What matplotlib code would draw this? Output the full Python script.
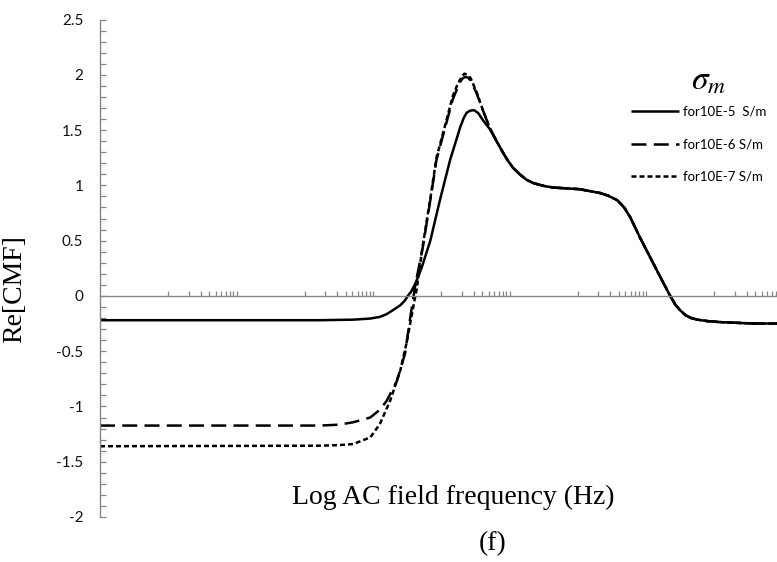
import numpy as np
import matplotlib
matplotlib.use("Agg")
import matplotlib.pyplot as plt
from matplotlib.ticker import FixedLocator, MultipleLocator, NullLocator, NullFormatter, FuncFormatter

# ---------------- data (x = log10 of AC field frequency) ----------------
log_f_5 = [1.0, 4.22, 4.71, 4.96, 5.10, 5.20, 5.29, 5.40, 5.47, 5.51, 5.56, 5.62, 5.71, 5.84,
           5.98, 6.13, 6.28, 6.33, 6.37, 6.42, 6.48, 6.54, 6.61, 6.71, 6.81, 6.91, 6.98,
           7.05, 7.15, 7.25, 7.35, 7.50, 7.64, 8.03, 8.33, 8.45, 8.58, 8.68, 8.77, 8.84,
           8.91, 9.06, 9.21, 9.35, 9.43, 9.50, 9.58, 9.66, 9.75, 9.90, 10.08, 10.57, 10.92]
cmf_5 = [-0.22, -0.22, -0.215, -0.205, -0.19, -0.165, -0.13, -0.085, -0.04, 0.0, 0.04, 0.11, 0.25, 0.50,
         0.865, 1.23, 1.53, 1.61, 1.655, 1.675, 1.68, 1.655, 1.59, 1.51, 1.40, 1.29, 1.22,
         1.16, 1.10, 1.05, 1.02, 0.995, 0.98, 0.965, 0.93, 0.905, 0.865, 0.80, 0.71, 0.62,
         0.53, 0.35, 0.17, 0.005, -0.08, -0.13, -0.175, -0.20, -0.215, -0.228, -0.237, -0.25, -0.25]

log_f_6 = [1.0, 4.22, 4.50, 4.71, 4.96, 5.10, 5.20, 5.35, 5.47, 5.54, 5.62, 5.73, 5.84, 5.93,
           6.06, 6.17, 6.23, 6.27, 6.31, 6.35, 6.39, 6.43, 6.52, 6.61, 6.71, 6.81, 6.91, 6.98,
           7.05, 7.15, 7.25, 7.35, 7.50, 7.64, 8.03, 8.33, 8.45, 8.58, 8.68, 8.77, 8.84,
           8.91, 9.06, 9.21, 9.35, 9.43, 9.50, 9.58, 9.66, 9.75, 9.90, 10.08, 10.57, 10.92]
cmf_6 = [-1.173, -1.173, -1.165, -1.143, -1.10, -1.03, -0.95, -0.77, -0.52, -0.22, 0.10, 0.44, 0.865, 1.23,
         1.53, 1.78, 1.87, 1.93, 1.965, 1.98, 1.975, 1.95, 1.83, 1.68, 1.52, 1.40, 1.29, 1.22,
         1.16, 1.10, 1.05, 1.02, 0.995, 0.98, 0.965, 0.93, 0.905, 0.865, 0.80, 0.71, 0.62,
         0.53, 0.35, 0.17, 0.005, -0.08, -0.13, -0.175, -0.20, -0.215, -0.228, -0.237, -0.25, -0.25]

log_f_7 = [1.0, 4.22, 4.50, 4.71, 4.96, 5.10, 5.25, 5.40, 5.49, 5.59, 5.64, 5.73, 5.84, 5.93,
           6.06, 6.17, 6.23, 6.27, 6.30, 6.34, 6.38, 6.43, 6.52, 6.61, 6.71, 6.81, 6.91, 6.98,
           7.05, 7.15, 7.25, 7.35, 7.50, 7.64, 8.03, 8.33, 8.45, 8.58, 8.68, 8.77, 8.84,
           8.91, 9.06, 9.21, 9.35, 9.43, 9.50, 9.58, 9.66, 9.75, 9.90, 10.08, 10.57, 10.92]
cmf_7 = [-1.36, -1.355, -1.35, -1.34, -1.28, -1.16, -0.95, -0.675, -0.43, -0.10, 0.06, 0.46, 0.88, 1.25,
         1.55, 1.81, 1.90, 1.95, 1.985, 2.01, 2.0, 1.97, 1.84, 1.68, 1.52, 1.40, 1.29, 1.22,
         1.16, 1.10, 1.05, 1.02, 0.995, 0.98, 0.965, 0.93, 0.905, 0.865, 0.80, 0.71, 0.62,
         0.53, 0.35, 0.17, 0.005, -0.08, -0.13, -0.175, -0.20, -0.215, -0.228, -0.237, -0.25, -0.25]

series_labels = ["for10E-5  S/m", "for10E-6 S/m", "for10E-7 S/m"]

# ---------------- figure ----------------
plt.rcParams["axes.unicode_minus"] = False
plt.rcParams["mathtext.fontset"] = "stix"

W, H = 777, 562
fig = plt.figure(figsize=(W / 100, H / 100), dpi=100)
ax = fig.add_axes([100 / W, 45 / H, 677 / W, 497.5 / H])

lw = 1.8
ax.plot(10 ** np.array(log_f_5), cmf_5, color="black", lw=lw, ls="-",
        label=series_labels[0], solid_capstyle="butt", solid_joinstyle="round")
ax.plot(10 ** np.array(log_f_6), cmf_6, color="black", lw=lw, ls=(0, (6.0, 2.9)),
        label=series_labels[1], dash_capstyle="butt", dash_joinstyle="round")
ax.plot(10 ** np.array(log_f_7), cmf_7, color="black", lw=lw, ls=(0, (2.0, 1.2)),
        label=series_labels[2], dash_capstyle="butt", dash_joinstyle="round")

ax.set_xscale("log")
ax.set_xlim(10 ** 1, 10 ** (1 + 677 / 68.25))
ax.set_ylim(-2, 2.5)

gray = "#868686"
for s in ["top", "right"]:
    ax.spines[s].set_visible(False)
ax.spines["left"].set_color(gray)
ax.spines["left"].set_linewidth(1.0)
ax.spines["bottom"].set_position(("data", 0))
ax.spines["bottom"].set_color(gray)
ax.spines["bottom"].set_linewidth(1.0)

# x ticks: 1..10 x 100^k
xt = [m * 10.0 ** (2 * k) for k in range(1, 6) for m in range(1, 11)]
ax.xaxis.set_major_locator(FixedLocator(xt))
ax.xaxis.set_minor_locator(NullLocator())
ax.xaxis.set_major_formatter(NullFormatter())
ax.tick_params(axis="x", which="major", direction="in", length=3.8, width=0.9, color=gray)

ax.yaxis.set_major_locator(MultipleLocator(0.5))
ax.yaxis.set_minor_locator(MultipleLocator(0.1))
ax.yaxis.set_major_formatter(FuncFormatter(lambda v, p: "%g" % (0 if abs(v) < 1e-9 else v)))
ax.tick_params(axis="y", which="both", direction="in", length=4.2, width=0.9, color=gray)
ax.tick_params(axis="y", which="major", pad=12, labelsize=11, labelcolor="#111111")
for t in ax.get_yticklabels():
    t.set_fontfamily("Lato")

ax.set_ylabel("Re[CMF]", fontsize=20, family="Liberation Serif")
ax.yaxis.set_label_coords(27 / W, 273 / H, transform=fig.transFigure)

fig.text(453 / W, 1 - 497 / H, "Log AC field frequency (Hz)", fontsize=20,
         family="Liberation Serif", ha="center", va="center")
fig.text(493 / W, 1 - 544 / H, "(f)", fontsize=20, family="Liberation Serif",
         ha="center", va="center")

fig.text(709 / W, 1 - 80 / H, r"$\sigma_m$", fontsize=24, ha="center", va="center")

leg = ax.legend(loc="upper left", bbox_to_anchor=(631 / W, 1 - 106 / H),
                bbox_transform=fig.transFigure, frameon=False, borderpad=0,
                borderaxespad=0, handlelength=3.6, handletextpad=0.35,
                labelspacing=1.55, prop={"family": "Lato", "size": 9.5})

fig.savefig("out.png", dpi=100)
